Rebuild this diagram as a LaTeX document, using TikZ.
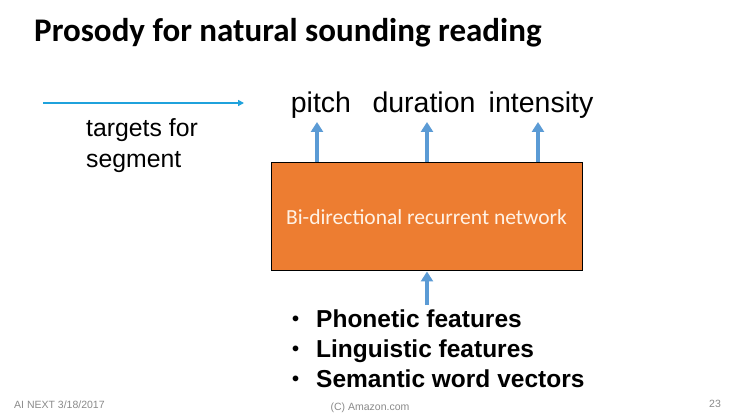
\documentclass[tikz,border=0pt]{standalone}
\usepackage{fontspec}
\setmainfont{Liberation Sans}
\newfontfamily\calibri{Carlito}
\usetikzlibrary{arrows.meta}
\definecolor{boxorange}{HTML}{ED7D31}
\definecolor{arrowblue}{HTML}{5B9BD5}
\definecolor{lineblue}{HTML}{1FA2DC}
\definecolor{footgray}{HTML}{8A8A8A}

\begin{document}
\begin{tikzpicture}[x=1pt, y=-1pt,
    every node/.style={inner sep=0pt},
    fat/.style={line width=4.5pt, arrowblue, -{Triangle[width=12pt,length=10pt]}},
    outlabel/.style={font=\fontsize{28.5}{32}\selectfont, anchor=base},
    feat/.style={font=\bfseries\fontsize{24.5}{28}\selectfont, anchor=base west},
    dot/.style={font=\bfseries\fontsize{20}{24}\selectfont, anchor=base west},
    foot/.style={font=\fontsize{10.5}{12}\selectfont, text=footgray, anchor=base}]
    \useasboundingbox[fill=white] (0,0) rectangle (740,417);
    \node[anchor=base west, font=\calibri\bfseries\fontsize{33}{38}\selectfont] (title) at (34,42) {Prosody for natural sounding reading};
    % network block
    \node[draw=black, line width=1pt, fill=boxorange, minimum width=311pt, minimum height=108pt,
      text=white!90!orange, font=\calibri\fontsize{21.5}{24}\selectfont] (rnn) at (426.5,217) {Bi-directional recurrent network};
    % outputs
    \node[outlabel] (pitch) at (321,113) {pitch};
    \node[outlabel] (dur) at (424,113) {duration};
    \node[outlabel] (inten) at (541,113) {intensity};
    \coordinate (o1) at (317,122);
    \coordinate (o2) at (427,122);
    \coordinate (o3) at (538,122);
    \draw[fat] (rnn.north -| o1) -- (o1);
    \draw[fat] (rnn.north -| o2) -- (o2);
    \draw[fat] (rnn.north -| o3) -- (o3);
    % left legend
    \coordinate (l0) at (43,103);
    \coordinate (l1) at (244,103);
    \draw[line width=1.8pt, lineblue, -{Triangle[width=6pt,length=6pt]}] (l0) -- (l1);
    \node[anchor=base west, font=\fontsize{24.8}{31}\selectfont, align=left] (tgt) at (86,168) {targets for\\segment};
    % inputs
    \coordinate (in0) at (427,305);
    \draw[fat] (in0) -- (rnn.south -| in0);
    \node[dot] (b1) at (292,325) {•};
    \node[dot] (b2) at (292,355) {•};
    \node[dot] (b3) at (292,385) {•};
    \node[feat] (f1) at (316,327) {Phonetic features};
    \node[feat] (f2) at (316,357) {Linguistic features};
    \node[feat] (f3) at (316,387) {Semantic word vectors};
    % footer
    \node[foot, anchor=base west] (date) at (14,408) {AI NEXT 3/18/2017};
    \node[foot] (copy) at (370,410) {(C) Amazon.com};
    \node[foot] (page) at (715,407) {23};
\end{tikzpicture}
\end{document}
